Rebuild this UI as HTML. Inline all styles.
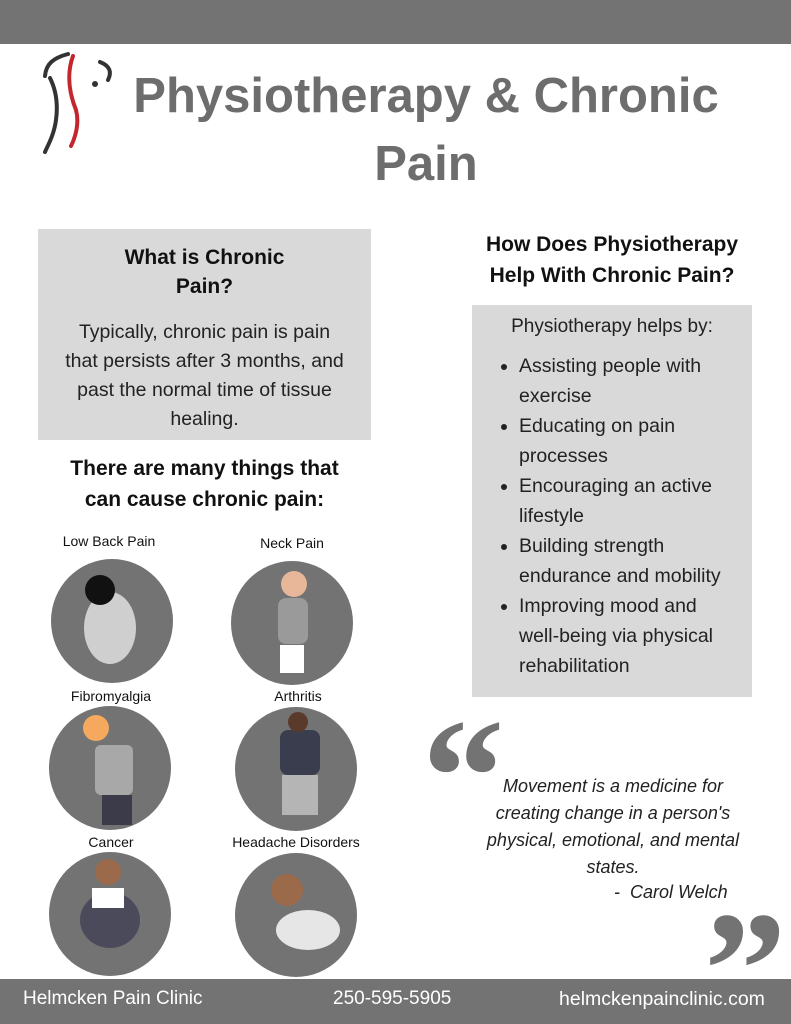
<!DOCTYPE html>
<html style="overflow:hidden;height:1024px"><head><style>
body{margin:0;width:791px;height:1024px;position:relative;background:#fff;font-family:"Liberation Sans",sans-serif;overflow:hidden}
.a{position:absolute}
.bar{background:#737373;left:0;width:791px}
.c{text-align:center}
.circ{position:absolute;width:122px;height:124px;border-radius:50%;background:#737373}
.lbl{position:absolute;font-size:14px;color:#111;text-align:center;width:180px}
ul{margin:0;padding-left:28px}
li{margin:0}
.q{position:absolute;font-size:165px;font-weight:bold;color:#737373;font-family:'Liberation Serif',serif;line-height:100px;height:100px;overflow:visible}
</style></head><body>
<div class="a bar" style="top:0;height:44px"></div>
<svg class="a" style="left:38px;top:50px" width="80" height="110" viewBox="0 0 80 110">
<path d="M30 4 C15 8 8 14 7 26 M12 28 C18 40 20 55 18 70 C16 85 10 95 7 102" stroke="#333" stroke-width="4" fill="none" stroke-linecap="round"/>
<path d="M35 6 C28 25 32 45 38 60 C42 75 36 90 33 96" stroke="#c4262e" stroke-width="4" fill="none" stroke-linecap="round"/>
<path d="M62 12 C72 16 74 22 70 30" stroke="#333" stroke-width="4" fill="none" stroke-linecap="round"/>
<circle cx="57" cy="34" r="3" fill="#333"/>
</svg>
<div class="a c" style="left:100px;width:652px;top:62px;font-size:49px;font-weight:bold;color:#6d6d6d;line-height:68px">Physiotherapy &amp; Chronic<br>Pain</div>

<div class="a" style="left:38px;top:229px;width:333px;height:211px;background:#d9d9d9"></div>
<div class="a c" style="left:38px;width:333px;top:243px;font-size:21px;font-weight:bold;line-height:29px;color:#111">What is Chronic<br>Pain?</div>
<div class="a c" style="left:54px;width:301px;top:318px;font-size:19.5px;line-height:29px;color:#222">Typically, chronic pain is pain<br>that persists after 3 months, and<br>past the normal time of tissue<br>healing.</div>
<div class="a c" style="left:38px;width:333px;top:453px;font-size:21px;font-weight:bold;line-height:31px;color:#111">There are many things that<br>can cause chronic pain:</div>

<div class="lbl" style="left:19px;top:533px">Low Back Pain</div>
<div class="lbl" style="left:202px;top:535px">Neck Pain</div>
<div class="lbl" style="left:21px;top:688px">Fibromyalgia</div>
<div class="lbl" style="left:208px;top:688px">Arthritis</div>
<div class="lbl" style="left:21px;top:834px">Cancer</div>
<div class="lbl" style="left:206px;top:834px">Headache Disorders</div>

<div class="circ" style="left:51px;top:559px"></div>
<div class="circ" style="left:231px;top:561px"></div>
<div class="circ" style="left:49px;top:706px"></div>
<div class="circ" style="left:235px;top:707px"></div>
<div class="circ" style="left:49px;top:852px"></div>
<div class="circ" style="left:235px;top:853px"></div>
<svg class="a" style="left:0;top:0" width="791" height="1024">
<ellipse cx="110" cy="628" rx="26" ry="36" fill="#cfcfcf"/><circle cx="100" cy="590" r="15" fill="#111"/>
<rect x="278" y="598" width="30" height="46" rx="8" fill="#9a9a9a"/><circle cx="294" cy="584" r="13" fill="#e8b79a"/><rect x="280" y="645" width="24" height="28" fill="#fff"/>
<rect x="95" y="745" width="38" height="50" rx="6" fill="#a8a8a8"/><circle cx="96" cy="728" r="13" fill="#f4a95e"/><rect x="102" y="795" width="30" height="30" fill="#3b3b4a"/>
<rect x="280" y="730" width="40" height="45" rx="8" fill="#3a3d4d"/><circle cx="298" cy="722" r="10" fill="#5a3a2a"/><rect x="282" y="775" width="36" height="40" fill="#b5b5b5"/>
<circle cx="108" cy="872" r="13" fill="#9a6a4a"/><ellipse cx="110" cy="920" rx="30" ry="28" fill="#4a4a5a"/><rect x="92" y="888" width="32" height="20" fill="#fff"/>
<circle cx="287" cy="890" r="16" fill="#9a6a4a"/><ellipse cx="308" cy="930" rx="32" ry="20" fill="#e6e6e6"/>
</svg>

<div class="a c" style="left:440px;width:344px;top:229px;font-size:21px;font-weight:bold;line-height:31px;color:#111">How Does Physiotherapy<br>Help With Chronic Pain?</div>
<div class="a" style="left:472px;top:305px;width:280px;height:392px;background:#d9d9d9"></div>
<div class="a c" style="left:472px;width:280px;top:316px;font-size:19px;color:#222">Physiotherapy helps by:</div>
<div class="a" style="left:491px;top:351px;width:252px;font-size:19.5px;line-height:30px;color:#222">
<ul><li>Assisting people with exercise</li><li>Educating on pain processes</li><li>Encouraging an active lifestyle</li><li>Building strength endurance and mobility</li><li>Improving mood and well&#8209;being via physical rehabilitation</li></ul></div>

<div class="q" style="left:422px;top:727px">&ldquo;</div>
<div class="a c" style="left:458px;width:310px;top:773px;font-size:18px;font-style:italic;line-height:27px;color:#222">Movement is a medicine for<br>creating change in a person's<br>physical, emotional, and mental<br>states.</div>
<div class="a" style="left:614px;top:882px;font-size:18px;font-style:italic;color:#222">-&nbsp; Carol Welch</div>
<div class="q" style="left:704px;top:920px">&rdquo;</div>

<div class="a bar" style="top:979px;height:45px"></div>
<div class="a" style="left:23px;top:988px;font-size:19px;color:#fff">Helmcken Pain Clinic</div>
<div class="a" style="left:333px;top:988px;font-size:19px;color:#fff">250-595-5905</div>
<div class="a" style="left:559px;top:988px;font-size:19.5px;color:#fff">helmckenpainclinic.com</div>
</body></html>
